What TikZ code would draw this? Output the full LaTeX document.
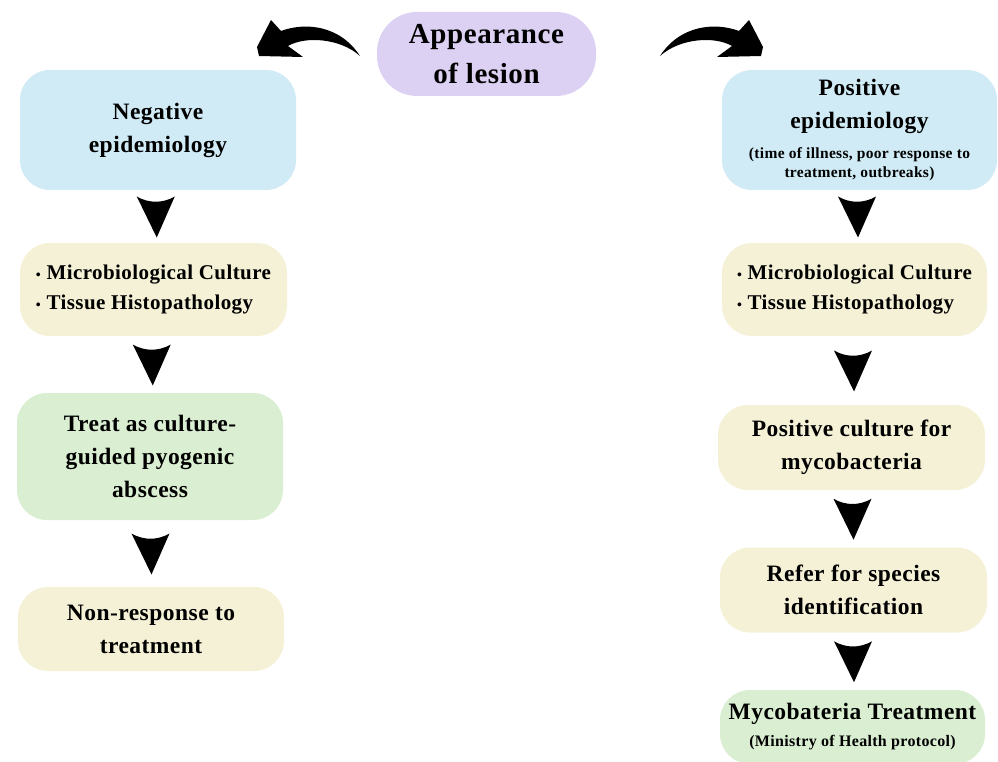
\documentclass[tikz,border=0pt]{standalone}
\usepackage{fontspec}
\setmainfont{Liberation Serif}[LetterSpace=2]
\usetikzlibrary{calc}
\definecolor{myblue}{RGB}{208, 235, 245}
\definecolor{myyellow}{RGB}{245, 241, 215}
\definecolor{mygreen}{RGB}{218, 238, 210}
\definecolor{mypurple}{RGB}{221, 209, 243}
\newcommand{\mybul}{{\fontsize{14}{14}\selectfont\textbullet}\ }
\newcommand{\smalltxt}{\fontsize{15.5}{19}\selectfont}
\tikzset{every picture/.style={line width=0.75pt}}

\begin{document}
\begin{tikzpicture}[x=1pt,y=1pt,yscale=-1,xscale=1,
  box/.style={rounded corners=30pt, align=center, inner sep=0pt, font=\bfseries},
  bigtxt/.style={font=\bfseries\fontsize{23.5}{33}\selectfont},
  bultxt/.style={align=left, font=\bfseries\fontsize{21}{30}\selectfont}]
\useasboundingbox (0,0) rectangle (998,762);
%Top box
\node [box, fill=mypurple, rounded corners=40pt, minimum width=219pt, minimum height=84pt, font=\bfseries\fontsize{29}{40}\selectfont] (app) at (486.5,54) {Appearance\\of lesion};
%Left column
\node [box, bigtxt, fill=myblue, minimum width=276pt, minimum height=120pt] (neg) at (158,130) {Negative\\epidemiology};
\node [box, bultxt, fill=myyellow, minimum width=267pt, minimum height=93pt] (lbul) at (153.5,289.5) {\mybul Microbiological Culture\\\mybul Tissue Histopathology};
\node [box, bigtxt, fill=mygreen, minimum width=266pt, minimum height=127pt] (treat) at (150,456.5) {Treat as culture-\\guided pyogenic\\abscess};
\node [box, bigtxt, fill=myyellow, minimum width=266pt, minimum height=84pt] (nonresp) at (151,629) {Non-response to\\treatment};
%Right column
\node [box, bigtxt, fill=myblue, minimum width=275pt, minimum height=120pt] (pos) at (859.5,130) {Positive\\epidemiology\\[-3pt]\smalltxt (time of illness, poor response to\\[-14pt]\smalltxt treatment, outbreaks)};
\node [box, bultxt, fill=myyellow, minimum width=265pt, minimum height=93pt] (rbul) at (854.5,289.5) {\mybul Microbiological Culture\\\mybul Tissue Histopathology};
\node [box, bigtxt, fill=myyellow, minimum width=267pt, minimum height=85pt] (posc) at (851.5,447.5) {Positive culture for\\mycobacteria};
\node [box, bigtxt, fill=myyellow, minimum width=267pt, minimum height=85pt] (refer) at (853.5,590) {Refer for species\\identification};
\node [box, bigtxt, fill=mygreen, minimum width=265pt, minimum height=74pt] (myco) at (852.5,727) {Mycobateria Treatment\\[-6pt]\fontsize{16}{19}\selectfont (Ministry of Health protocol)};
%Curved arrows
\fill (271,20) -- (281,31) .. controls (305,22) and (340,25) .. (360,56) .. controls (340,38) and (305,36) .. (288,46) -- (303,57) -- (259,56) -- (257,47) -- cycle;
\begin{scope}[shift={(1020,0)}, xscale=-1]
\fill (271,20) -- (281,31) .. controls (305,22) and (340,25) .. (360,56) .. controls (340,38) and (305,36) .. (288,46) -- (303,57) -- (259,56) -- (257,47) -- cycle;
\end{scope}
%Down arrows
\foreach \a/\b in {neg/lbul, lbul/treat, treat/nonresp, pos/rbul, rbul/posc, posc/refer, refer/myco}
{
\begin{scope}[shift={($(\a.south)!0.5!(\b.north)$)}]
\fill (-19,-20) .. controls (-7,-13) and (7,-13) .. (19,-20) -- (1,21) -- cycle;
\end{scope}
}
\end{tikzpicture}
\end{document}
